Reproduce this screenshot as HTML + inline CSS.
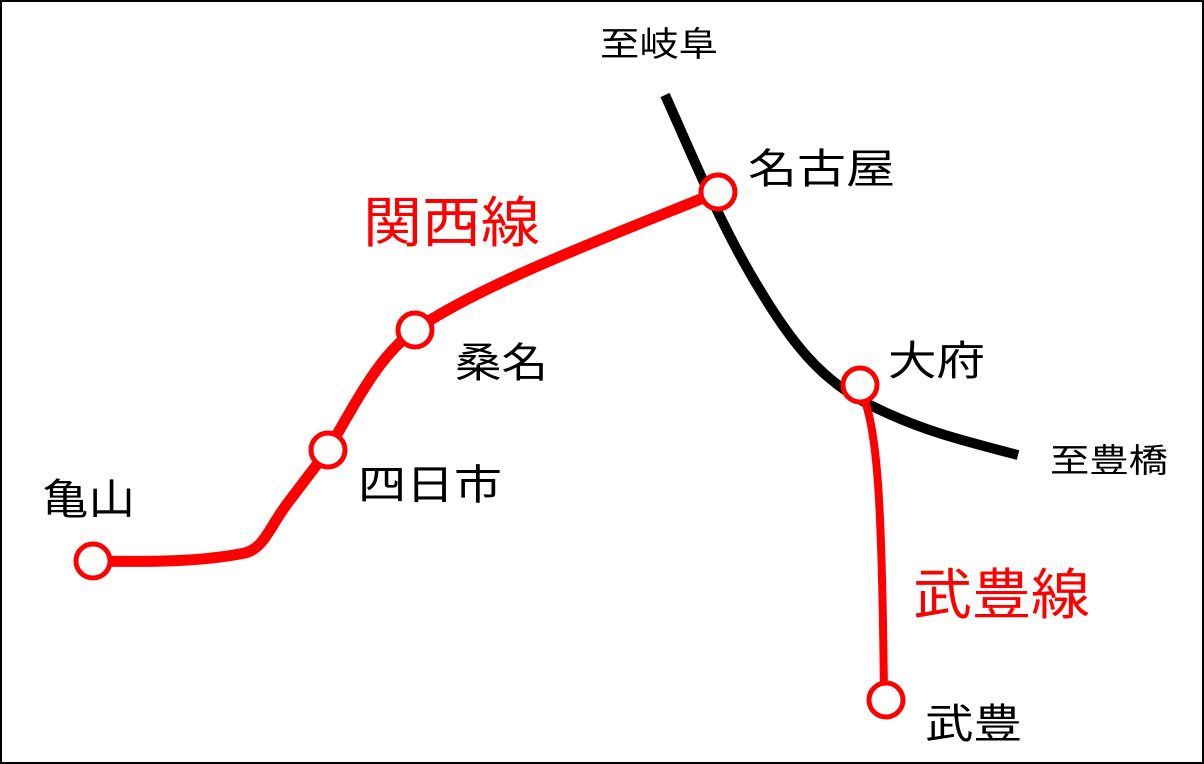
<!DOCTYPE html>
<html><head><meta charset="utf-8"><style>
html,body{margin:0;padding:0;background:#fff}
svg{display:block}
text{font-family:"Liberation Sans","Noto Sans CJK JP",sans-serif}
</style></head><body>
<svg width="1204" height="764" viewBox="0 0 1204 764" xmlns="http://www.w3.org/2000/svg">
<rect x="1" y="1" width="1202" height="762" fill="#fff" stroke="#000" stroke-width="2"/>
<path d="M665,95 C690,150 720,225 760,290 C790,340 820,380 870,405 C920,430 960,440 1018,455" fill="none" stroke="#000" stroke-width="10"/>
<path d="M93,561 C150,562 200,562 245,553 C265,548 270,525 290,500 L328,450 C360,395 380,355 415,330 C480,285 600,240 718,192" fill="none" stroke="#f00" stroke-width="11"/>
<path d="M858,385 C878,420 882,500 884,697" fill="none" stroke="#f00" stroke-width="8"/>
<g fill="#fff" stroke="#f00" stroke-width="5">
<circle cx="718" cy="192" r="17"/>
<circle cx="415" cy="330" r="17"/>
<circle cx="328" cy="450" r="17"/>
<circle cx="93" cy="561" r="17"/>
<circle cx="860" cy="385" r="17"/>
<circle cx="886" cy="700" r="17"/>
</g>
<g fill="#000" lengthAdjust="spacingAndGlyphs">
<text x="600" y="56" font-size="34" textLength="118" lengthAdjust="spacingAndGlyphs">至岐阜</text>
<text x="748" y="183" font-size="41" textLength="147" lengthAdjust="spacingAndGlyphs">名古屋</text>
<text x="455" y="377" font-size="41" textLength="93" lengthAdjust="spacingAndGlyphs">桑名</text>
<text x="888" y="375" font-size="41" textLength="97" lengthAdjust="spacingAndGlyphs">大府</text>
<text x="1050" y="472" font-size="33" textLength="118" lengthAdjust="spacingAndGlyphs">至豊橋</text>
<text x="358" y="499" font-size="41" textLength="144" lengthAdjust="spacingAndGlyphs">四日市</text>
<text x="42" y="514" font-size="42" textLength="93" lengthAdjust="spacingAndGlyphs">亀山</text>
<text x="925" y="738" font-size="41" textLength="97" lengthAdjust="spacingAndGlyphs">武豊</text>
</g>
<g fill="#f00">
<text x="363" y="242" font-size="55" textLength="177" lengthAdjust="spacingAndGlyphs">関西線</text>
<text x="913" y="614" font-size="55" textLength="177" lengthAdjust="spacingAndGlyphs">武豊線</text>
</g>
</svg>
</body></html>
